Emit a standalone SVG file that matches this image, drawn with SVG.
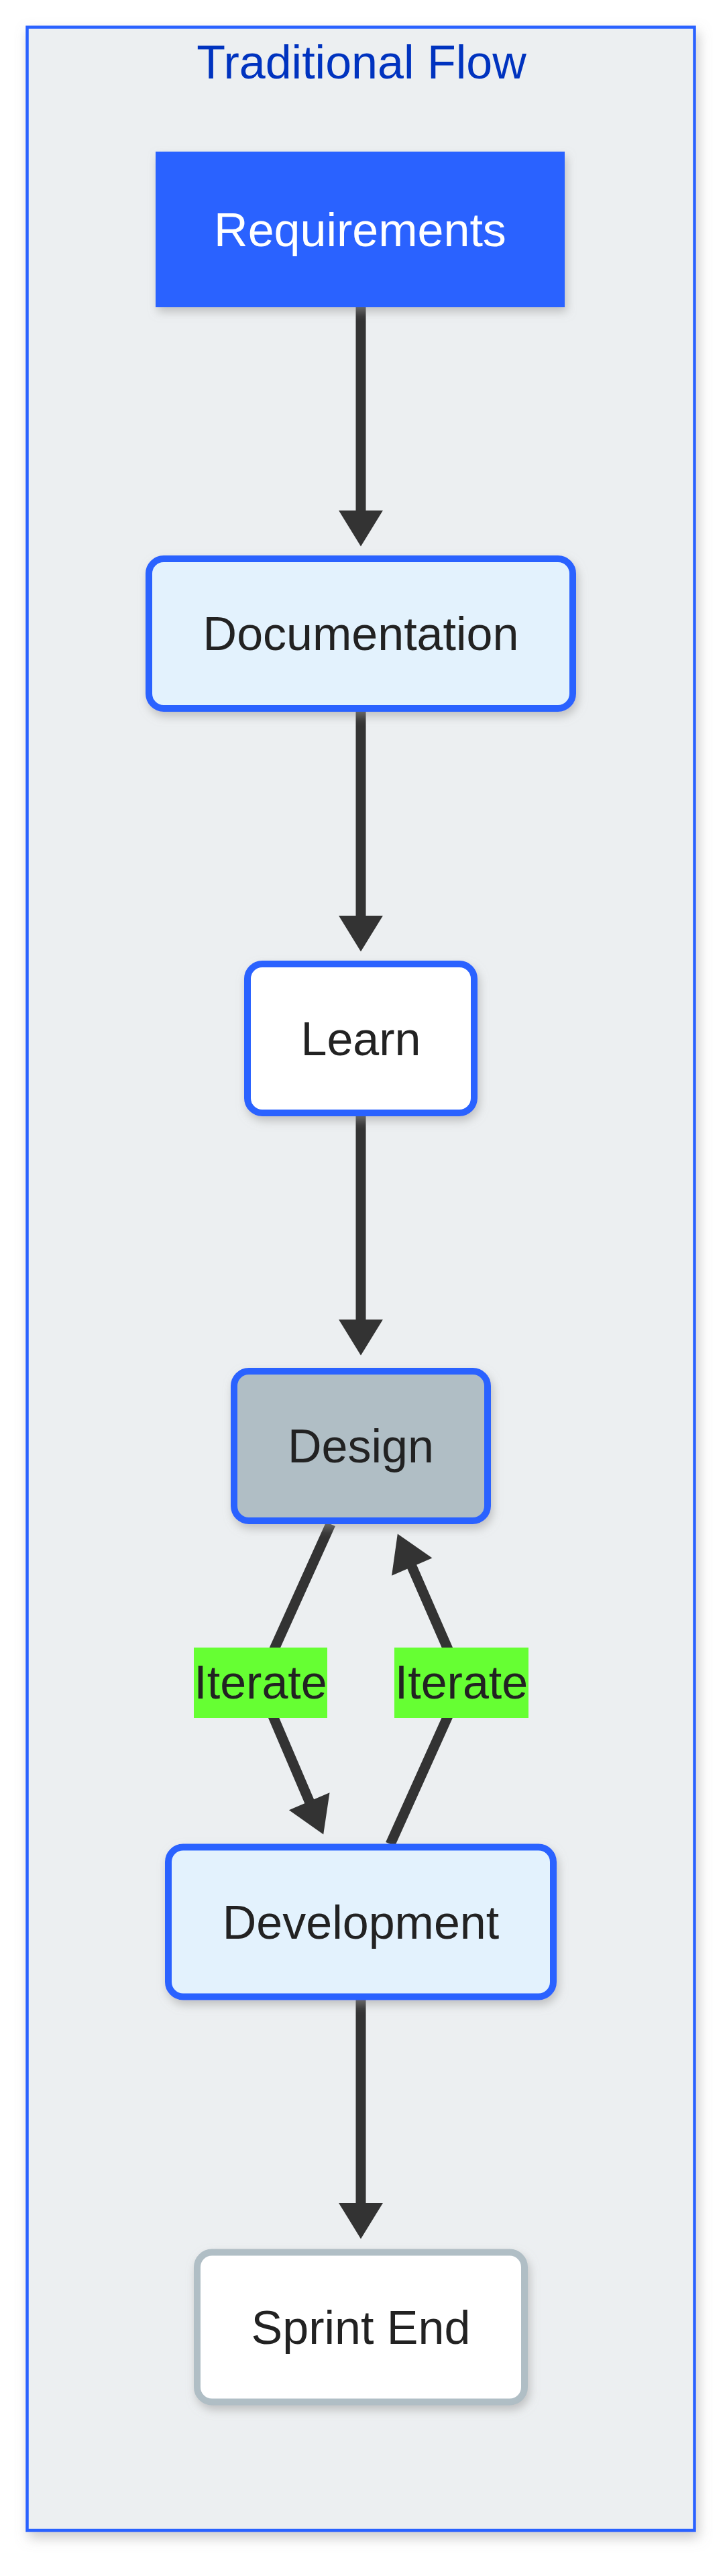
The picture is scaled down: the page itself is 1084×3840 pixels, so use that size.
<svg xmlns="http://www.w3.org/2000/svg" width="1084" height="3840" viewBox="0 0 1084 3840">
  <style>
    .lbl { font-family: "Liberation Sans", Arial, sans-serif; font-size: 70px; text-anchor: middle; fill: #222222; }
    .title { font-family: "Liberation Sans", Arial, sans-serif; font-size: 70px; text-anchor: middle; fill: #0033BF; }
    .node { stroke: #2962FF; stroke-width: 10; }
    .edge { fill: none; stroke: #333333; stroke-width: 15; stroke-linejoin: round; }
    .elbl { fill: #66FF33; }
  </style>
  <defs>
    <filter id="shadow" x="-20%" y="-20%" width="140%" height="150%">
      <feDropShadow dx="3" dy="7" stdDeviation="7" flood-color="#9a9a9a" flood-opacity="0.55"/>
    </filter>
    <filter id="cshadow" x="-5%" y="-2%" width="110%" height="104%">
      <feDropShadow dx="4" dy="9" stdDeviation="9" flood-color="#9a9a9a" flood-opacity="0.5"/>
    </filter>
    <marker id="arrow" markerUnits="userSpaceOnUse" markerWidth="60" markerHeight="70" viewBox="-2 -34 58 68" refX="4" refY="0" orient="auto">
      <path d="M0,-32 L52,0 L0,32 z" fill="#333333"/>
    </marker>
  </defs>
  <rect width="1084" height="3840" fill="#ffffff"/>
  <g id="cluster-traditional-flow">
    <rect x="40.5" y="40.5" width="995" height="3731.5" fill="#ECEFF1" stroke="#2962FF" stroke-width="4.5" filter="url(#cshadow)"/>
    <text class="title" x="539" y="117">Traditional Flow</text>
  </g>
  <g id="edges">
    <path class="edge" d="M538 458 L538 765" marker-end="url(#arrow)"/>
    <path class="edge" d="M538 1061 L538 1369" marker-end="url(#arrow)"/>
    <path class="edge" d="M538 1664 L538 1971" marker-end="url(#arrow)"/>
    <path class="edge" d="M493 2272 L386 2509 L462.8 2689" marker-end="url(#arrow)"/>
    <path class="edge" d="M582 2749 L690 2509 L612.6 2331.8" marker-end="url(#arrow)"/>
    <path class="edge" d="M538 2981 L538 3288" marker-end="url(#arrow)"/>
    <g id="label-design-development">
      <rect class="elbl" x="289" y="2456" width="199" height="105"/>
      <text class="lbl" x="388.5" y="2532">Iterate</text>
    </g>
    <g id="label-development-design">
      <rect class="elbl" x="588" y="2456" width="200" height="105"/>
      <text class="lbl" x="688" y="2532">Iterate</text>
    </g>
  </g>
  <g id="node-requirements" filter="url(#shadow)">
    <rect x="232" y="226" width="610" height="232" fill="#2962FF"/>
    <text class="lbl" x="537" y="366.5" style="fill:#ffffff">Requirements</text>
  </g>
  <g id="node-documentation" filter="url(#shadow)">
    <rect class="node" x="222" y="833" width="632" height="223" rx="22" fill="#E3F2FD"/>
    <text class="lbl" x="538" y="969">Documentation</text>
  </g>
  <g id="node-learn" filter="url(#shadow)">
    <rect class="node" x="369" y="1437" width="338" height="222" rx="22" fill="#FFFFFF"/>
    <text class="lbl" x="538" y="1572.5">Learn</text>
  </g>
  <g id="node-design" filter="url(#shadow)">
    <rect class="node" x="349" y="2044" width="378" height="223" rx="22" fill="#B0BEC5"/>
    <text class="lbl" x="538" y="2180">Design</text>
  </g>
  <g id="node-development" filter="url(#shadow)">
    <rect class="node" x="251" y="2753.5" width="574" height="223" rx="22" fill="#E3F2FD"/>
    <text class="lbl" x="538" y="2889.5">Development</text>
  </g>
  <g id="node-sprint-end" filter="url(#shadow)">
    <rect x="294" y="3357.5" width="488" height="223" rx="22" fill="#FFFFFF" stroke="#B0BEC5" stroke-width="10"/>
    <text class="lbl" x="538" y="3493.5">Sprint End</text>
  </g>
</svg>
